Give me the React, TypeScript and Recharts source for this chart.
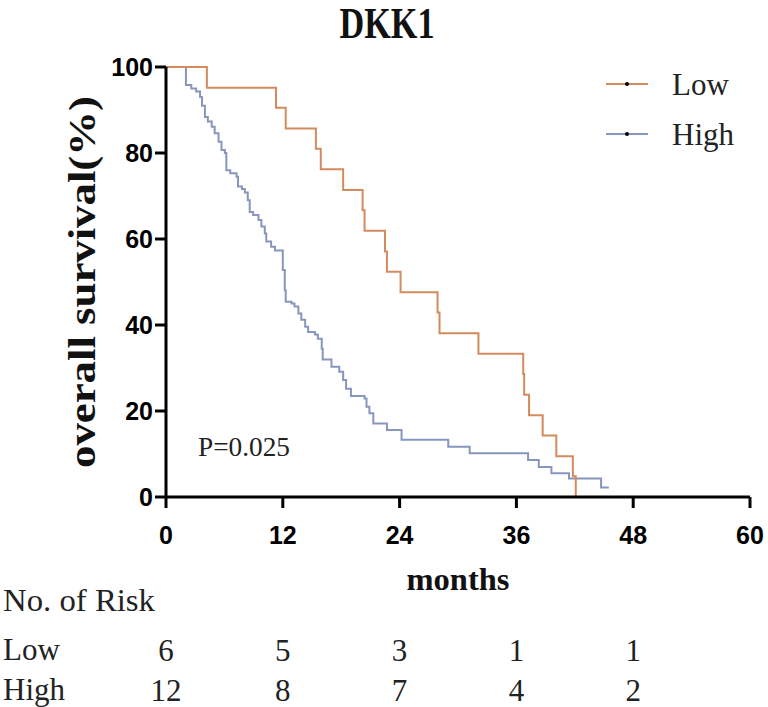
import { LineChart, Line, XAxis, YAxis } from "recharts";

// Kaplan-Meier curves (months, % surviving)
const lowMonths = [0, 4.2, 11.3, 12.3, 15.4, 15.9, 18.2, 20.2, 20.4, 22.5, 22.7, 24.1, 27.9, 28.1, 32.1, 36.7, 36.8, 37.3, 38.7, 40.1, 41.8, 42.1];
const lowSurvival = [100, 95.2, 90.5, 85.7, 81.0, 76.2, 71.4, 66.7, 61.9, 57.1, 52.4, 47.6, 42.9, 38.1, 33.3, 28.6, 23.8, 19.0, 14.3, 9.5, 4.8, 0];

const highMonths = [0, 2.05, 2.6, 3.1, 3.5, 3.7, 4.0, 4.3, 4.7, 5.0, 5.4, 5.7, 6.05, 6.2, 6.6, 7.25, 7.4, 7.8, 8.1, 8.4, 8.6, 8.95, 9.5, 9.8, 10.15, 10.3, 10.8, 11.2, 12.0, 12.2, 12.3, 12.9, 13.2, 13.6, 13.9, 14.3, 14.6, 15.3, 15.6, 16.0, 16.1, 17.0, 17.8, 18.2, 18.5, 19.0, 20.4, 20.6, 20.9, 21.3, 22.7, 24.2, 29.0, 31.2, 37.2, 38.3, 39.6, 41.4, 44.7, 45.5];
const highSurvival = [100, 95.8, 95.0, 94.3, 93.0, 91.0, 88.4, 87.3, 86.1, 84.6, 82.6, 80.7, 80.0, 76.0, 75.3, 74.5, 72.2, 71.6, 70.8, 69.0, 66.3, 65.6, 64.4, 62.9, 61.3, 59.4, 58.2, 57.3, 52.8, 48.1, 45.4, 45.0, 44.3, 42.7, 41.2, 39.6, 38.4, 37.8, 36.8, 34.5, 32.0, 30.3, 29.1, 27.2, 25.2, 23.5, 22.9, 21.0, 19.5, 17.1, 15.6, 13.3, 11.7, 10.2, 8.6, 7.0, 5.5, 4.3, 2.2, 2.2];

const xTicks = [0, 12, 24, 36, 48, 60];
const yTicks = [0, 20, 40, 60, 80, 100];

// number at risk table
const riskMonths = [0, 12, 24, 36, 48];
const lowAtRisk = [6, 5, 3, 1, 1];
const highAtRisk = [12, 8, 7, 4, 2];

const LOW_COLOR = "#D38B5D";
const HIGH_COLOR = "#8896BE";
const SERIF = "'Liberation Serif', 'Times New Roman', serif";
const SANS = "'Liberation Sans', Arial, sans-serif";

const lowData = lowMonths.map((t, i) => ({ t, s: lowSurvival[i] }));
const highData = highMonths.map((t, i) => ({ t, s: highSurvival[i] }));

const legendItems = [
  { name: "Low", color: LOW_COLOR, y: 84 },
  { name: "High", color: HIGH_COLOR, y: 134 },
];

const XTick = (props: any) => {
  const { x, y, payload } = props;
  const i = riskMonths.indexOf(payload.value);
  return (
    <g>
      <text x={x} y={y + 34} textAnchor="middle" fontFamily={SANS} fontWeight="bold" fontSize={25} fill="#000">
        {payload.value}
      </text>
      {i >= 0 && (
        <>
          <text x={x} y={y + 151} textAnchor="middle" fontFamily={SERIF} fontSize={31} fill="#222">
            {lowAtRisk[i]}
          </text>
          <text x={x} y={y + 191} textAnchor="middle" fontFamily={SERIF} fontSize={31} fill="#222">
            {highAtRisk[i]}
          </text>
        </>
      )}
    </g>
  );
};

const YTick = (props: any) => {
  const { x, y, payload } = props;
  return (
    <text x={x} y={y + 9} textAnchor="end" fontFamily={SANS} fontWeight="bold" fontSize={25} fill="#000">
      {payload.value}
    </text>
  );
};

export default function App() {
  return (
    <div style={{ position: "absolute", left: 0, top: 0, width: 768, height: 707, background: "#fff" }}>
      <LineChart width={768} height={707} margin={{ top: 67, right: 18, bottom: 170, left: 66 }}>
        <XAxis
          type="number"
          dataKey="t"
          domain={[0, 60]}
          ticks={xTicks}
          allowDataOverflow
          height={40}
          tickSize={11}
          axisLine={{ stroke: "#000", strokeWidth: 3 }}
          tickLine={{ stroke: "#000", strokeWidth: 3 }}
          tick={<XTick />}
        />
        <YAxis
          type="number"
          dataKey="s"
          domain={[0, 100]}
          ticks={yTicks}
          width={100}
          tickSize={11}
          axisLine={{ stroke: "#000", strokeWidth: 3 }}
          tickLine={{ stroke: "#000", strokeWidth: 3 }}
          tick={<YTick />}
        />
        <Line
          data={highData}
          dataKey="s"
          name="High"
          type="stepAfter"
          stroke={HIGH_COLOR}
          strokeWidth={2}
          dot={false}
          isAnimationActive={false}
        />
        <Line
          data={lowData}
          dataKey="s"
          name="Low"
          type="stepAfter"
          stroke={LOW_COLOR}
          strokeWidth={2}
          dot={false}
          isAnimationActive={false}
        />
      </LineChart>
      <svg
        width={768}
        height={707}
        style={{ position: "absolute", left: 0, top: 0, pointerEvents: "none" }}
      >
        <text x={387} y={38} textAnchor="middle" fontFamily={SERIF} fontWeight="bold" fontSize={44} textLength={95} lengthAdjust="spacingAndGlyphs" fill="#111">
          DKK1
        </text>
        <text x={95} y={282} textAnchor="middle" fontFamily={SERIF} fontWeight="bold" fontSize={38} textLength={372} lengthAdjust="spacingAndGlyphs" transform="rotate(-90 95 282)" fill="#111">
          overall survival(%)
        </text>
        <text x={458} y={590} textAnchor="middle" fontFamily={SERIF} fontWeight="bold" fontSize={31} textLength={103} lengthAdjust="spacingAndGlyphs" fill="#111">
          months
        </text>
        <text x={198} y={456} fontFamily={SERIF} fontSize={28} textLength={92} lengthAdjust="spacingAndGlyphs" fill="#222">
          P=0.025
        </text>
        <text x={3} y={611} fontFamily={SERIF} fontSize={31} textLength={152} lengthAdjust="spacingAndGlyphs" fill="#222">
          No. of Risk
        </text>
        <text x={3} y={660} fontFamily={SERIF} fontSize={31} fill="#222">
          Low
        </text>
        <text x={3} y={700} fontFamily={SERIF} fontSize={31} fill="#222">
          High
        </text>
        {legendItems.map((d) => (
          <g key={d.name}>
            <line x1={606} x2={648} y1={d.y} y2={d.y} stroke={d.color} strokeWidth={2} />
            <circle cx={627} cy={d.y} r={2} fill="#000" />
            <text x={672} y={d.y + 11} fontFamily={SERIF} fontSize={31} fill="#222">
              {d.name}
            </text>
          </g>
        ))}
      </svg>
    </div>
  );
}
